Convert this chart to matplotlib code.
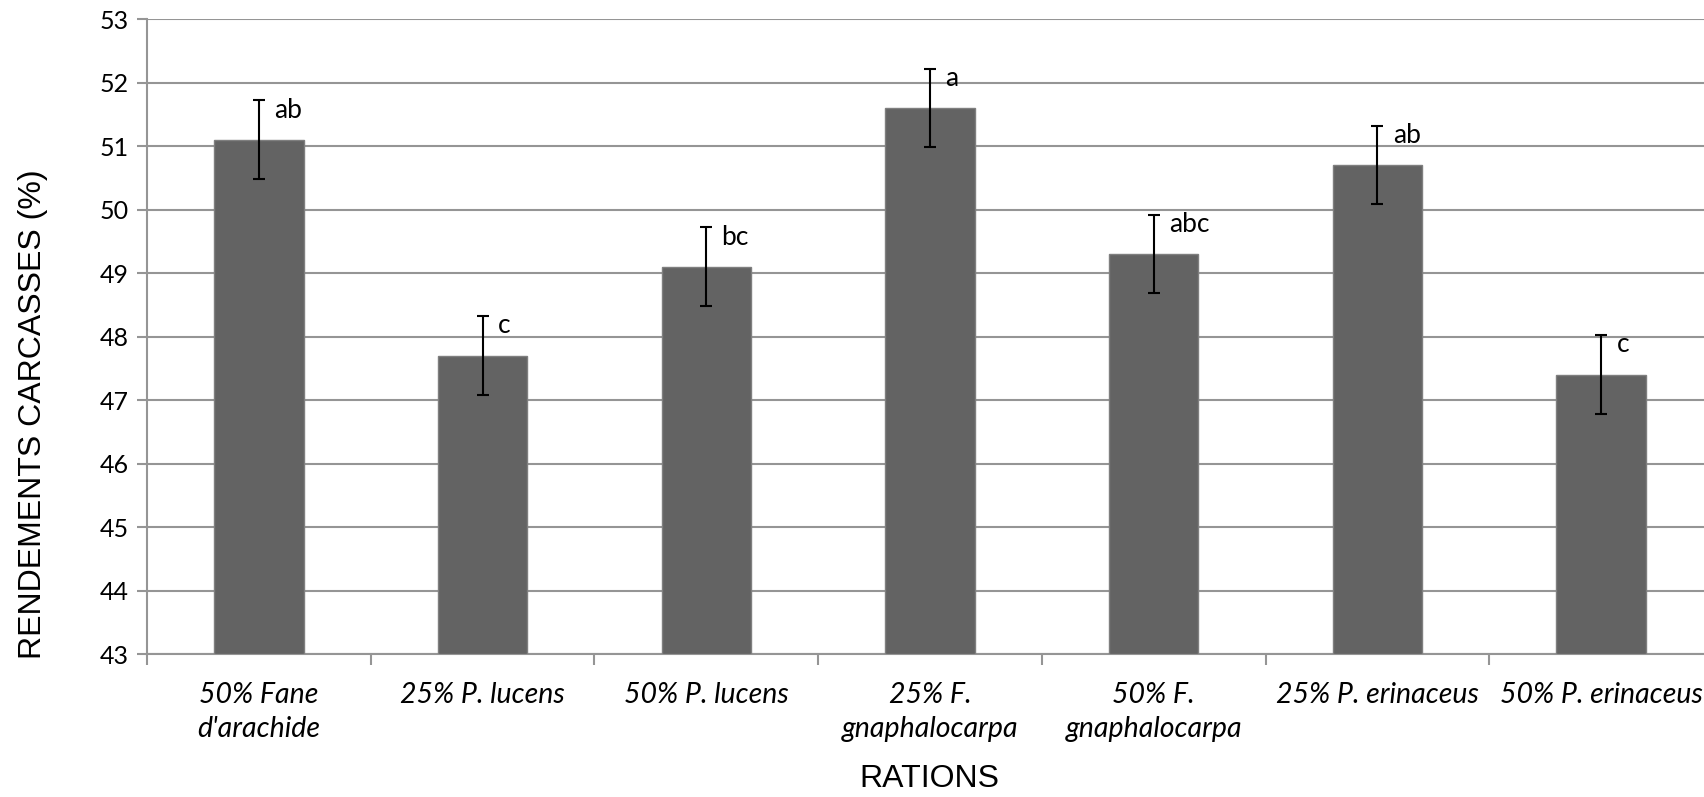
import matplotlib
matplotlib.use('Agg')
import matplotlib.pyplot as plt
import numpy as np

# data
rations = ["50% Fane\nd'arachide", "25% P. lucens", "50% P. lucens",
           "25% F.\ngnaphalocarpa", "50% F.\ngnaphalocarpa",
           "25% P. erinaceus", "50% P. erinaceus"]
rendements = [51.1, 47.7, 49.1, 51.6, 49.3, 50.7, 47.4]
erreurs = [0.62, 0.62, 0.62, 0.62, 0.62, 0.62, 0.62]
lettres = ["ab", "c", "bc", "a", "abc", "ab", "c"]
y_ticks = [43, 44, 45, 46, 47, 48, 49, 50, 51, 52, 53]

fig = plt.figure(figsize=(17.04, 7.97), dpi=100)
# the original is cropped on the right, so the axes go past the figure edge
ax = fig.add_axes([0.0863, 0.1794, 0.919, 0.7967])

x = np.arange(len(rations))
ax.bar(x, [v - 43 for v in rendements], bottom=43, width=0.4,
       color='#636363', edgecolor='#7f7f7f', linewidth=1, zorder=3)
ax.errorbar(x, rendements, yerr=erreurs, fmt='none', ecolor='black',
            elinewidth=1.5, capsize=4, capthick=1.5, zorder=4)

#letters next to the top of the error bars
for i in range(len(rations)):
    ax.annotate(lettres[i], (x[i], rendements[i] + erreurs[i]),
                xytext=(11, -7), textcoords='offset points',
                ha='left', va='center', fontsize=19, family='Lato')

ax.set_xlim(-0.5, len(rations) - 0.5)
ax.set_ylim(43, 53)
ax.set_yticks(y_ticks)
ax.yaxis.grid(True, color='#959595', linewidth=1.5, zorder=0)

ax.set_xticks(x)
ax.set_xticklabels(rations, fontstyle='italic', fontsize=20.5, family='Lato',
                   linespacing=1.4)
ax.set_xticks(np.arange(len(rations) + 1) - 0.5, minor=True)
ax.tick_params(axis='x', which='major', length=0, pad=20)
ax.tick_params(axis='x', which='minor', length=8, width=1.5, color='#959595')
ax.tick_params(axis='y', length=7, width=1.5, color='#959595', labelsize=18, pad=6)
for lab in ax.get_yticklabels():
    lab.set_family('Lato')

for side in ['top', 'right']:
    ax.spines[side].set_visible(False)
for side in ['left', 'bottom']:
    ax.spines[side].set_color('#959595')
    ax.spines[side].set_linewidth(1.5)

fig.text(33 / 1704, 1 - 414 / 797, 'RENDEMENTS CARCASSES (%)', fontsize=23,
         family='Liberation Sans', rotation=90, ha='center', va='center')
fig.text(929 / 1704, 1 - 779 / 797, 'RATIONS', fontsize=23, family='Liberation Sans',
         ha='center', va='center')

fig.savefig('out.png', dpi=100)
